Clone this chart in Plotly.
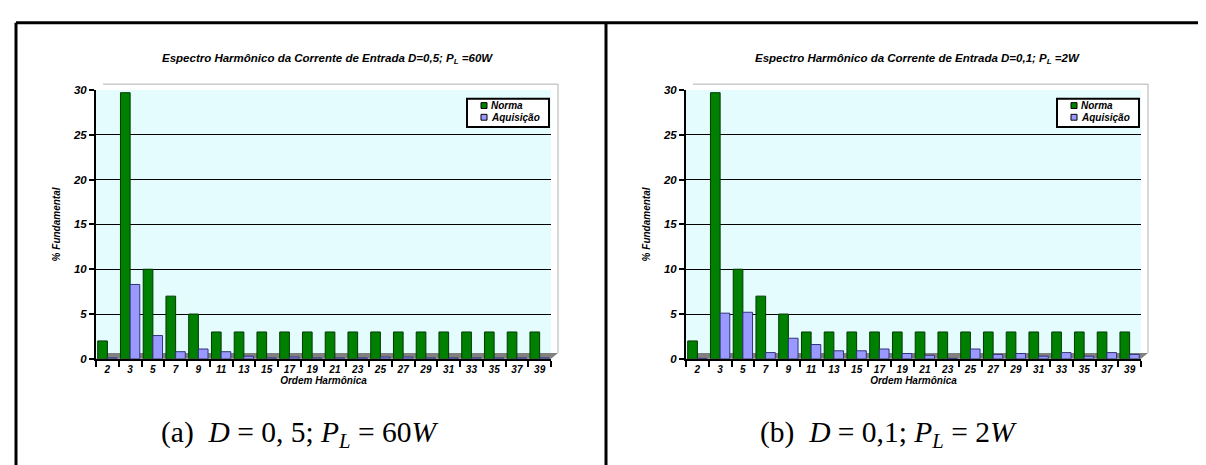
import plotly.graph_objects as go

W, H = 1206, 465

harmonics = ["2", "3", "5", "7", "9", "11", "13", "15", "17", "19", "21",
             "23", "25", "27", "29", "31", "33", "35", "37", "39"]
yticks = [0, 5, 10, 15, 20, 25, 30]

norma = [2, 29.7, 10, 7, 5, 3, 3, 3, 3, 3, 3, 3, 3, 3, 3, 3, 3, 3, 3, 3]

aquis_a = [0.1, 8.3, 2.6, 0.8, 1.1, 0.8, 0.3, 0.1, 0.2, 0.1, 0.1,
           0.1, 0.2, 0.2, 0.1, 0.1, 0.1, 0.1, 0.1, 0.1]

aquis_b = [0.05, 5.1, 5.2, 0.7, 2.3, 1.6, 0.9, 0.9, 1.1, 0.6, 0.4,
           0.05, 1.1, 0.5, 0.6, 0.3, 0.7, 0.3, 0.7, 0.5]

series_names = ["Norma", "Aquisição"]
titles = ["Espectro Harmônico da Corrente de Entrada D=0,5; P<sub>L</sub> =60W",
          "Espectro Harmônico da Corrente de Entrada D=0,1; P<sub>L</sub> =2W"]
captions = ["(a)  <i>D</i> = 0, 5; <i>P<sub>L</sub></i> = 60<i>W</i>",
            "(b)  <i>D</i> = 0,1; <i>P<sub>L</sub></i> = 2<i>W</i>"]

GREEN = "#008000"
GREEN_D = "#003a00"
PURPLE = "#9999FF"
PURPLE_D = "#33337a"
colors = [GREEN, PURPLE]
edge_colors = [GREEN_D, PURPLE_D]


def px(x):
    return x / W


def py(y):
    return 1 - y / H


def bi(t):
    return f"<b><i>{t}</i></b>"


FAM = "Liberation Sans, Arial"
f_title = dict(family=FAM, size=11.5, color="black")
f_ytick = dict(family=FAM, size=11.5, color="black")
f_xtick = dict(family=FAM, size=10, color="black")
f_axt = dict(family=FAM, size=10, color="black")
f_leg = dict(family=FAM, size=10, color="black")

fig = go.Figure()

offsets = [0, 590]
aq = [aquis_a, aquis_b]
for i in range(2):
    xa = "x" if i == 0 else "x2"
    ya = "y" if i == 0 else "y2"
    for k, vals in enumerate([norma, aq[i]]):
        fig.add_trace(go.Bar(x=harmonics, y=vals, name=series_names[k],
                             xaxis=xa, yaxis=ya, showlegend=False,
                             marker=dict(color=colors[k],
                                         line=dict(color=edge_colors[k], width=1))))

axis_common_x = dict(type="category", tickson="boundaries", ticks="outside",
                     ticklen=6, tickwidth=2, tickcolor="black",
                     tickvals=harmonics, ticktext=[bi(h) for h in harmonics],
                     showline=True, linecolor="black", linewidth=2,
                     tickfont=f_xtick, showgrid=False, zeroline=False,
                     title=dict(text=bi("Ordem Harmônica"), font=f_axt, standoff=2))
axis_common_y = dict(range=[0, 30], tickvals=yticks,
                     ticktext=[bi(v) for v in yticks],
                     ticks="outside", ticklen=5, tickwidth=2, tickcolor="black",
                     showline=True, linecolor="black", linewidth=2,
                     tickfont=f_ytick, showgrid=True, gridcolor="black", gridwidth=1,
                     zeroline=False,
                     title=dict(text=bi("% Fundamental"), font=f_axt, standoff=10))

for i, off in enumerate(offsets):
    sx = "" if i == 0 else "2"
    fig.update_layout(**{
        f"xaxis{sx}": dict(axis_common_x, domain=[px(88 + off), px(543 + off)],
                           anchor=f"y{sx}"),
        f"yaxis{sx}": dict(axis_common_y, domain=[py(354), py(78)],
                           anchor=f"x{sx}"),
    })

shapes = []
annotations = []
# table borders
shapes.append(dict(type="line", xref="paper", yref="paper", x0=px(8), x1=1,
                   y0=py(9), y1=py(9), line=dict(color="black", width=3)))
shapes.append(dict(type="line", xref="paper", yref="paper", x0=px(8), x1=px(8),
                   y0=py(9), y1=0, line=dict(color="black", width=3)))
shapes.append(dict(type="line", xref="paper", yref="paper", x0=px(598), x1=px(598),
                   y0=py(9), y1=0, line=dict(color="black", width=3)))

for i, off in enumerate(offsets):
    # floor (gray parallelogram)
    shapes.append(dict(type="path", xref="paper", yref="paper", layer="below",
                       path=(f"M {px(88+off)},{py(354)} L {px(543+off)},{py(354)} "
                             f"L {px(550+off)},{py(348)} L {px(95+off)},{py(348)} Z"),
                       fillcolor="#808080", line=dict(width=0)))
    # back wall edges
    shapes.append(dict(type="line", xref="paper", yref="paper",
                       x0=px(550 + off), x1=px(550 + off), y0=py(348), y1=py(72),
                       line=dict(color="#b0b0b0", width=1)))
    shapes.append(dict(type="line", xref="paper", yref="paper",
                       x0=px(95 + off), x1=px(550 + off), y0=py(72), y1=py(72),
                       line=dict(color="#b0b0b0", width=1)))
    # chart title
    annotations.append(dict(text=bi(titles[i]), xref="paper", yref="paper",
                            x=px(319 + off), y=py(46), showarrow=False,
                            font=f_title, xanchor="center", yanchor="middle"))
    # caption
    annotations.append(dict(text=captions[i], xref="paper", yref="paper",
                            x=px(291 + off), y=py(431),
                            showarrow=False,
                            font=dict(family="Liberation Serif, Times New Roman",
                                      size=29.5, color="black"),
                            xanchor="center", yanchor="middle"))
    # legend box
    shapes.append(dict(type="rect", xref="paper", yref="paper",
                       x0=px(459 + off), x1=px(541 + off), y0=py(116), y1=py(87),
                       fillcolor="white", line=dict(color="black", width=2)))
    for k, name in enumerate(series_names):
        yc = 94 + k * 12
        shapes.append(dict(type="rect", xref="paper", yref="paper",
                           x0=px(473 + off), x1=px(479 + off),
                           y0=py(yc + 3), y1=py(yc - 3),
                           fillcolor=colors[k], line=dict(color="black", width=1)))
        annotations.append(dict(text=bi(name), xref="paper", yref="paper",
                                x=px(481 + off), y=py(yc), showarrow=False,
                                font=f_leg, xanchor="left", yanchor="middle"))

fig.update_layout(
    width=W, height=H,
    margin=dict(l=0, r=0, t=0, b=0),
    paper_bgcolor="white",
    plot_bgcolor="#e4fcfd",
    barmode="group", bargap=0.15, bargroupgap=0.0,
    shapes=shapes, annotations=annotations,
    font=dict(family=FAM, color="black"),
    showlegend=False,
)

fig.write_html("out.html")
